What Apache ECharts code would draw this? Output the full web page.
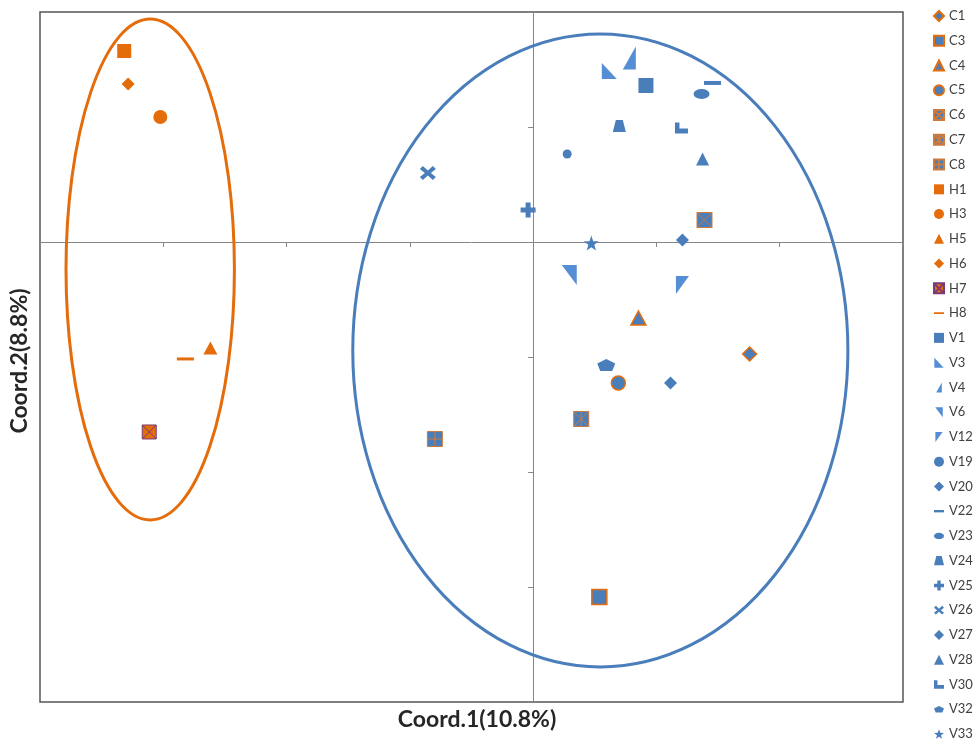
<!DOCTYPE html>
<html><head><meta charset="utf-8">
<script src="https://cdn.jsdelivr.net/npm/echarts@6/dist/echarts.min.js"></script>
<style>html,body{margin:0;padding:0;background:#fff}#chart{width:974px;height:744px}</style>
</head><body><div id="chart"></div>
<script>
// ---- data ----
const sampleNames = ['C1','C3','C4','C5','C6','C7','C8','H1','H3','H5','H6','H7','H8','V1','V3','V4','V6','V12','V19','V20','V22','V23','V24','V25','V26','V27','V28','V30','V32','V33'];
const coord1 = [1.756,0.537,0.854,0.691,1.39,0.39,-0.797,-3.317,-3.024,-2.618,-3.285,-3.114,-2.821,0.915,0.618,0.780,0.293,1.211,0.276,1.114,1.455,1.366,0.699,-0.041,-0.854,1.211,1.374,1.203,0.593,0.472];
const coord2 = [-0.974,-3.087,-0.661,-1.226,0.191,-1.539,-1.713,1.661,1.087,-0.922,1.374,-1.652,-1.017,1.361,1.487,1.6,-0.287,-0.374,0.765,-1.226,1.383,1.287,1.009,0.278,0.6,0.017,0.722,0.991,-1.07,-0.009];
// group ellipses: [centerX, centerY, radiusX, radiusY]
const ellipseH = [-3.106, -0.239, 0.683, 2.178];
const ellipseV = [0.545, -0.943, 2.008, 2.752];
const xAxisName = 'Coord.1(10.8%)';
const yAxisName = 'Coord.2(8.8%)';

// ---- styles ----
const BLUE = '#4A7EBB', LBLUE = '#558ED5', ORANGE = '#E46C0A', XORANGE = '#CC7A3E';
const P = {
  sqX: 'path://M0 0H15V15H0Z M0 0L15 15 M15 0L0 15',
  sqStar: 'path://M0 0H15V15H0Z M0 0L15 15 M15 0L0 15 M7.5 0V15',
  sqPlus: 'path://M0 0H15V15H0Z M7.5 0V15 M0 7.5H15',
  dash17x3: 'path://M0 0H17V3H0Z',
  dash17x4: 'path://M0 0H17V4H0Z',
  triBL: 'path://M0 0L0 16L15 16Z',
  triBR: 'path://M13 0L13 23L0 23Z',
  triTR: 'path://M0 0L15 0L15 20Z',
  triTL: 'path://M0 0L13 0L0 18Z',
  ell: 'path://M0 5A8 5 0 1 0 16 5A8 5 0 1 0 0 5Z',
  trap: 'path://M3 0H10L13 12H0Z',
  plus: 'path://M5 0H10V5H15V10H10V15H5V10H0V5H5Z',
  cross: 'path://M0 3L3 0L8 4.5L13 0L16 3L11 7L16 11L13 14L8 9.5L3 14L0 11L5 7Z',
  L: 'path://M0 0H4.5V6H13V11H0Z',
  pent: 'path://M9 0L18 4.5L15 12H3L0 4.5Z',
  star: 'path://M5 0L6.18 3.38L9.76 3.45L6.9 5.62L7.94 9.05L5 7L2.06 9.05L3.1 5.62L0.24 3.45L3.82 3.38Z'
};
const markerStyle = {
  C1: ['diamond', 14, BLUE, ORANGE, 1.5],
  C3: ['rect', 15, BLUE, ORANGE, 1.5],
  C4: ['triangle', [15, 14], BLUE, ORANGE, 1.5],
  C5: ['circle', 14, BLUE, ORANGE, 1.5],
  C6: [P.sqX, [15, 15], BLUE, XORANGE, 1],
  C7: [P.sqStar, [15, 15], BLUE, XORANGE, 1],
  C8: [P.sqPlus, [15, 15], BLUE, XORANGE, 1],
  H1: ['rect', 14, ORANGE, null, 0],
  H3: ['circle', 14, ORANGE, null, 0],
  H5: ['triangle', [14, 13], ORANGE, null, 0],
  H6: ['diamond', 13, ORANGE, null, 0],
  H7: [P.sqX, [14, 14], ORANGE, '#7A3A78', 1],
  H8: [P.dash17x3, [17, 3], ORANGE, null, 0],
  V1: ['rect', 15, BLUE, null, 0],
  V3: [P.triBL, [15, 16], LBLUE, null, 0],
  V4: [P.triBR, [13, 23], LBLUE, null, 0],
  V6: [P.triTR, [15, 20], LBLUE, null, 0],
  V12: [P.triTL, [13, 18], LBLUE, null, 0],
  V19: ['circle', 9, BLUE, null, 0],
  V20: ['diamond', 13, BLUE, null, 0],
  V22: [P.dash17x4, [17, 4], BLUE, null, 0],
  V23: [P.ell, [16, 10], BLUE, null, 0],
  V24: [P.trap, [13, 12], BLUE, null, 0],
  V25: [P.plus, [15, 15], BLUE, null, 0],
  V26: [P.cross, [16, 14], BLUE, null, 0],
  V27: ['diamond', 13, BLUE, null, 0],
  V28: ['triangle', 13, BLUE, null, 0],
  V30: [P.L, [13, 11], BLUE, null, 0],
  V32: [P.pent, [18, 12], BLUE, null, 0],
  V33: [P.star, 15, BLUE, null, 0]
};

const scatterSeries = sampleNames.map((n, i) => {
  const s = markerStyle[n];
  return {
    name: n, type: 'scatter', z: 3,
    symbol: s[0], symbolSize: s[1], symbolKeepAspect: false,
    itemStyle: { color: s[2], borderColor: s[3] || s[2], borderWidth: s[4], opacity: 1 },
    data: [[coord1[i], coord2[i]]]
  };
});

function ellipseSeries(name, e, color) {
  return {
    name: name, type: 'custom', silent: true, z: 2,
    data: [e],
    encode: { x: 0, y: 1 },
    renderItem: function (params, api) {
      const c = api.coord([api.value(0), api.value(1)]);
      const s = api.size([api.value(2), api.value(3)]);
      const rx = s[0], ry = s[1];
      return {
        type: 'path',
        shape: {
          pathData: 'M' + (c[0] - rx) + ' ' + c[1] + ' A' + rx + ' ' + ry + ' 0 1 0 ' + (c[0] + rx) + ' ' + c[1] +
                    ' A' + rx + ' ' + ry + ' 0 1 0 ' + (c[0] - rx) + ' ' + c[1] + ' Z',
          x: c[0] - rx, y: c[1] - ry, width: 2 * rx, height: 2 * ry, layout: 'cover'
        },
        style: { fill: 'none', stroke: color, lineWidth: 3 }
      };
    }
  };
}

const chart = echarts.init(document.getElementById('chart'), null, { renderer: 'canvas' });
const axisColor = '#868686';
chart.setOption({
  animation: false,
  backgroundColor: '#fff',
  textStyle: { fontFamily: 'Lato' },
  grid: { left: 40, top: 12, right: 71, bottom: 42, show: true, borderColor: '#555555', borderWidth: 1.5, backgroundColor: 'transparent' },
  xAxis: {
    type: 'value', min: -4, max: 3, interval: 1,
    axisLine: { show: true, onZero: true, lineStyle: { color: axisColor, width: 1 } },
    axisTick: { show: true, length: 5, lineStyle: { color: axisColor } },
    axisLabel: { show: false }, splitLine: { show: false }
  },
  yAxis: {
    type: 'value', min: -4, max: 2, interval: 1,
    axisLine: { show: true, onZero: true, lineStyle: { color: axisColor, width: 1 } },
    axisTick: { show: true, length: 5, lineStyle: { color: axisColor } },
    axisLabel: { show: false }, splitLine: { show: false }
  },
  legend: {
    data: sampleNames, orient: 'vertical', left: 933, top: 9, padding: 0,
    itemWidth: 10, itemHeight: 10, itemGap: 10.76, symbolKeepAspect: true,
    textStyle: { fontFamily: 'Lato', fontSize: 13, color: '#404040', lineHeight: 14 },
    selectedMode: false
  },
  graphic: [
    { type: 'text', x: 477, y: 720, style: { text: xAxisName, font: 'bold 23px Lato', fill: '#262626', textAlign: 'center', textVerticalAlign: 'middle' } },
    { type: 'text', x: 20, y: 361, rotation: Math.PI / 2, style: { text: yAxisName, font: 'bold 23px Lato', fill: '#262626', textAlign: 'center', textVerticalAlign: 'middle' } }
  ],
  series: [ellipseSeries('groupH', ellipseH, '#E46C0A'), ellipseSeries('groupV', ellipseV, '#4A7EBB')].concat(scatterSeries)
});
</script></body></html>
